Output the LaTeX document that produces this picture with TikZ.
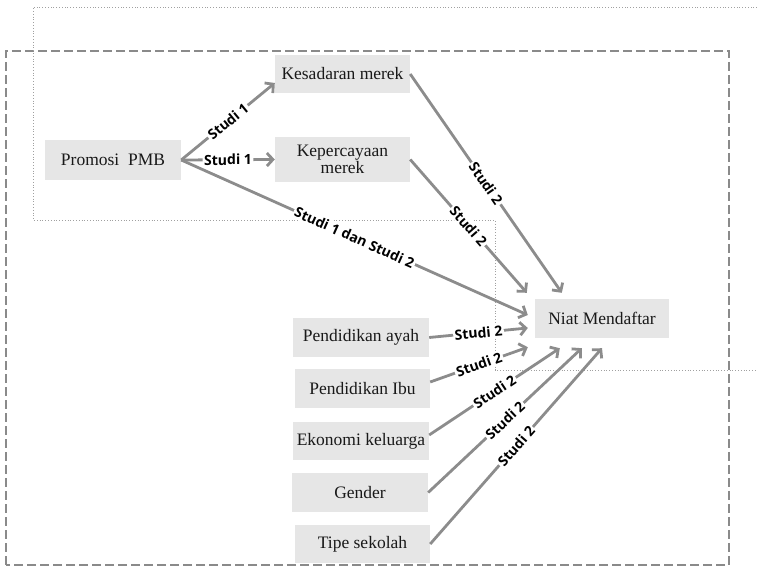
\documentclass[tikz,border=0pt]{standalone}
\usepackage{fontspec}
\setmainfont{Liberation Serif}
\newfontfamily\labfont{Open Sans}
\usetikzlibrary{arrows.meta}
\definecolor{boxgray}{HTML}{E6E6E6}
\definecolor{linegray}{HTML}{8C8C8C}
\definecolor{framegray}{HTML}{8A8A8A}
\definecolor{dotgray}{HTML}{A0A0A0}
\begin{document}
\begin{tikzpicture}[x=1pt,y=1pt,
  box/.style={fill=boxgray, inner sep=0pt, minimum width=135pt, minimum height=38pt, align=center,
    font=\fontsize{17.5}{15.5}\selectfont, text=black!90},
  conn/.style={draw=linegray, line width=2.8pt, -{Straight Barb[length=6pt,width=13pt]}},
  lab/.style={fill=white, inner sep=1.5pt, font=\labfont\bfseries\fontsize{14}{14}\selectfont,
    text=black, sloped, midway}]
\useasboundingbox (0,0) rectangle (757,569);
% frames
\draw[framegray, line width=1.4pt, dash pattern=on 9pt off 4pt] (6,4) rectangle (729,518);
\draw[dotgray, line width=0.8pt, dotted] (757,562) -- (33,562) -- (33,349) -- (495,349) -- (495,199) -- (757,199);
% nodes
\node[box, minimum width=136pt, minimum height=40pt] (P) at (113,409) {Promosi\ \ PMB};
\node[box] (Kes) at (342.5,495) {Kesadaran merek};
\node[box, minimum height=45pt] (Kep) at (342.5,409.5) {Kepercayaan\\merek};
\node[box, minimum width=134pt, minimum height=39pt] (N) at (602,250.5) {Niat Mendaftar};
\node[box, minimum width=136pt, minimum height=39pt] (A) at (361,231.5) {Pendidikan ayah};
\node[box, minimum height=39pt] (I) at (362.5,180.5) {Pendidikan Ibu};
\node[box, minimum width=136pt] (E) at (361,128) {Ekonomi keluarga};
\node[box, minimum width=136pt, minimum height=39pt] (G) at (360,76.5) {Gender};
\node[box] (T) at (362.5,25) {Tipe sekolah};
% connectors
\draw[conn] (P.east) -- ([yshift=-9pt]Kes.west) node[lab]{Studi 1};
\draw[conn] (P.east) -- (Kep.west) node[lab]{Studi 1};
\draw[conn] (P.east) -- ([xshift=-7pt,yshift=3.5pt]N.west) node[lab]{Studi 1 dan Studi 2};
\draw[conn] (Kes.east) -- ([xshift=27pt,yshift=6pt]N.north west) node[lab]{Studi 2};
\draw[conn] (Kep.east) -- ([xshift=-8pt,yshift=6pt]N.north west) node[lab]{Studi 2};
\draw[conn] (A.east) -- ([xshift=-7pt,yshift=-9.5pt]N.west) node[lab]{Studi 2};
\draw[conn] ([yshift=6.5pt]I.east) -- ([xshift=-7pt,yshift=-9pt]N.south west) node[lab]{Studi 2};
\draw[conn] ([yshift=6pt]E.east) -- ([xshift=25pt,yshift=-10pt]N.south west) node[lab]{Studi 2};
\draw[conn] (G.east) -- ([xshift=47pt,yshift=-10pt]N.south west) node[lab]{Studi 2};
\draw[conn] (T.east) -- ([yshift=-10pt]N.south) node[lab]{Studi 2};
\end{tikzpicture}
\end{document}
